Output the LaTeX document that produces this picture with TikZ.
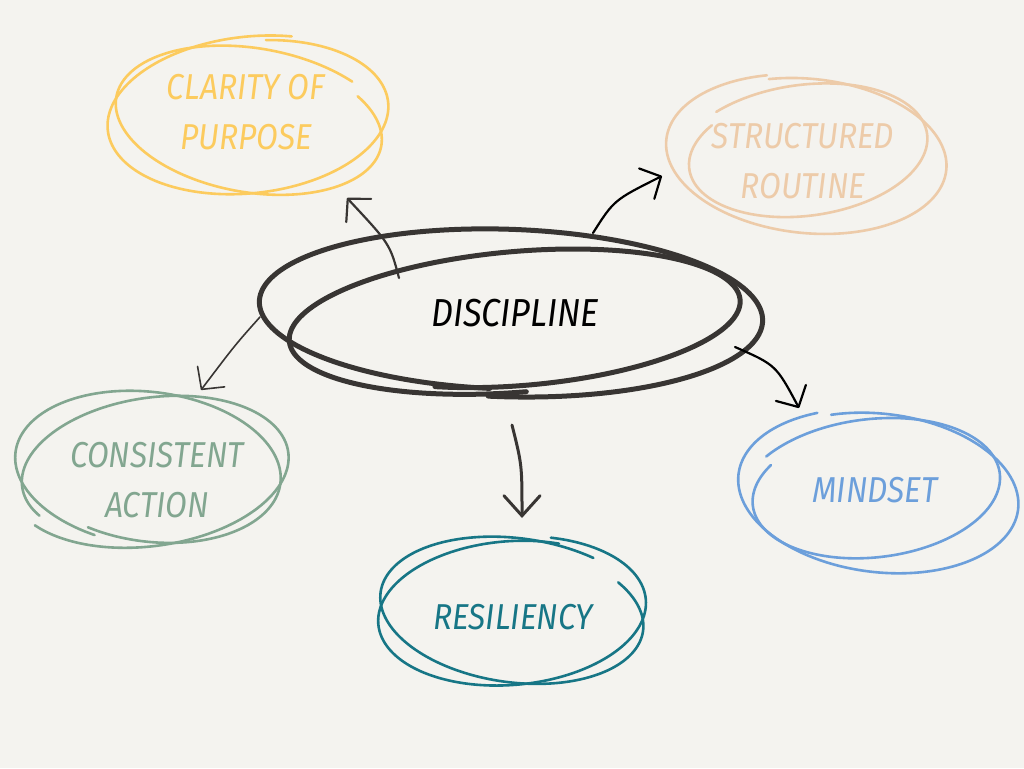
\documentclass[tikz,border=0pt]{standalone}
\usepackage{fontspec}
\setmainfont{Fira Sans}[FakeStretch=0.88]
\usetikzlibrary{arrows.meta}
\definecolor{paper}{HTML}{F4F3EF}
\definecolor{ink}{HTML}{383533}
\definecolor{sunny}{HTML}{FCCB5E}
\definecolor{peach}{HTML}{EDCBA9}
\definecolor{sage}{HTML}{82A690}
\definecolor{sky}{HTML}{6C9FDB}
\definecolor{deepteal}{HTML}{177686}

% open hand-drawn loop: [style]{cx}{cy}{rx}{ry}{from}{to}{grow}
\newcommand{\scrawl}[8][]{%
  \draw[shift={(#2,#3)},#1] plot[domain=#6:#7,samples=90,smooth]
    ({#4*(1+#8*(\x-(#6))/360)*cos(\x)},{#5*(1+#8*(\x-(#6))/360)*sin(\x)});}

\tikzset{
  ring/.style={line width=2.6pt,line cap=round},
  heavy/.style={line width=5pt,line cap=round,ink},
  tag/.style={font=\itshape\fontsize{36}{50}\selectfont,align=center,inner sep=0pt},
  link/.style={line width=2.2pt,line cap=round,line join=round,
    -{Straight Barb[length=16pt,width=34pt,line cap=round,line join=round]}}
}

\begin{document}
\begin{tikzpicture}[x=1pt,y=-1pt]
\path[use as bounding box,fill=paper] (0,0) rectangle (1024,768);

% bubbles
\scrawl[heavy,rotate=-2]{505}{311}{240}{78}{93}{453}{0.1}
\scrawl[heavy,rotate=5]{520}{320}{237}{72}{-270}{115}{-0.09}
\scrawl[ring,sunny,rotate=6]{250}{116}{137}{75}{280}{650}{0.06}
\scrawl[ring,sunny,rotate=-10]{252}{122}{130}{68}{-40}{310}{0.1}
\scrawl[ring,peach,rotate=-6]{808}{155}{137}{76}{250}{610}{0.05}
\scrawl[ring,peach,rotate=8]{805}{152}{128}{68}{-130}{220}{-0.1}
\scrawl[ring,sky,rotate=-7]{880}{492}{137}{78}{245}{600}{0.05}
\scrawl[ring,sky,rotate=7]{873}{490}{133}{72}{-140}{215}{-0.1}
\scrawl[ring,deepteal,rotate=5]{510}{612}{138}{75}{-70}{295}{-0.06}
\scrawl[ring,deepteal,rotate=-8]{515}{612}{128}{68}{-40}{300}{0.1}
\scrawl[ring,sage,rotate=-7]{150}{468}{137}{78}{-250}{115}{-0.06}
\scrawl[ring,sage,rotate=8]{152}{470}{130}{70}{155}{510}{0.1}

% labels
\node[tag,font=\itshape\fontsize{39}{50}\selectfont,text=black] (discipline) at (515,313) {DISCIPLINE};
\node[tag,text=sunny] (clarity) at (246,112) {CLARITY OF\\PURPOSE};
\node[tag,text=peach] (routine) at (803,161) {STRUCTURED\\ROUTINE};
\node[tag,text=sky] (mindset) at (875,490) {MINDSET};
\node[tag,text=deepteal] (resiliency) at (513,617) {RESILIENCY};
\node[tag,text=sage] (action) at (157,480) {CONSISTENT\\ACTION};

% connector ends
\coordinate (disc-nw) at (399,278);
\coordinate (disc-ne) at (593,233);
\coordinate (disc-e) at (735,347);
\coordinate (disc-s) at (512,425);
\coordinate (disc-w) at (260,317);
\coordinate (clarity-in) at (347,198);
\coordinate (routine-in) at (662,176);
\coordinate (mindset-in) at (799,408);
\coordinate (resiliency-in) at (522,518);
\coordinate (action-in) at (201,390);

\draw[link,ink] (disc-nw) .. controls (390,244) .. (clarity-in);
\draw[link,black] (disc-ne) .. controls (614,200) .. (routine-in);
\draw[link,black] (disc-e) .. controls (776,365) .. (mindset-in);
\draw[link,ink,line width=3pt,-{Straight Barb[length=20pt,width=36pt,line cap=round]}] (disc-s) .. controls (522,465) .. (resiliency-in);
\draw[link,ink,line width=1.6pt] (disc-w) .. controls (235,345) .. (action-in);
\end{tikzpicture}
\end{document}
